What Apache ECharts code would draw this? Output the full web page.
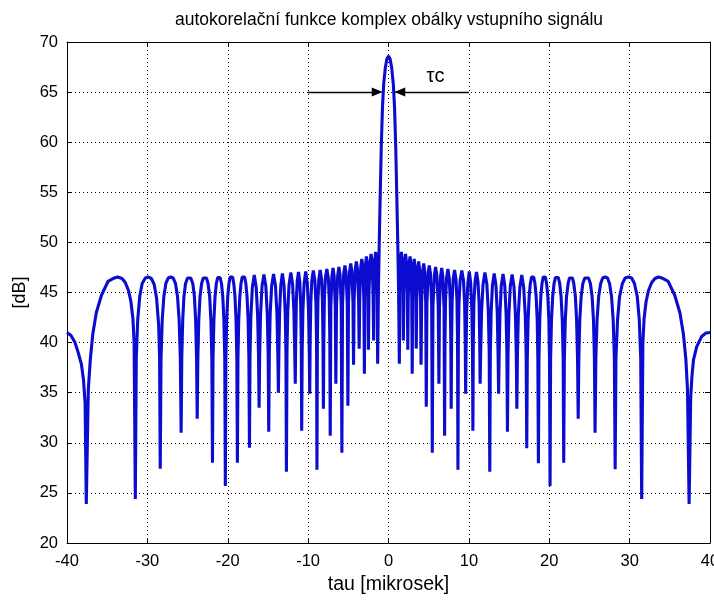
<!DOCTYPE html>
<html>
<head>
<meta charset="utf-8">
<script src="https://cdn.jsdelivr.net/npm/echarts@6/dist/echarts.min.js"></script>
<style>
html,body{margin:0;padding:0;background:#fff;}
#chart{width:714px;height:601px;}
</style>
</head>
<body>
<div id="chart"></div>
<script>
// ---- data (tau in microseconds, value in dB) ----
const titleText = 'autokorelační funkce komplex obálky vstupního signálu';
const xName = 'tau [mikrosek]';
const yName = '[dB]';
const xTicks = [-40, -30, -20, -10, 0, 10, 20, 30, 40];
const yTicks = [20, 25, 30, 35, 40, 45, 50, 55, 60, 65, 70];

// left half (tau <= 0)
const tauLeft = [
  -40.0, -39.5, -39.0, -38.6, -38.2, -37.95, -37.75, -37.6,
  -37.35, -37.1, -36.8, -36.35, -35.7, -34.9, -34.1, -33.7, -33.15, -32.75, -32.35, -32.05, -31.8, -31.65, -31.5,
  -31.38, -31.2, -30.95, -30.65, -30.25, -29.9, -29.5, -29.15, -28.85, -28.6, -28.48, -28.4,
  -28.3, -28.15, -27.95, -27.7, -27.4, -27.1, -26.8, -26.5, -26.25, -26.05, -25.9, -25.8,
  -25.72, -25.6, -25.45, -25.25, -25.0, -24.8, -24.6, -24.35, -24.15, -24.0, -23.88, -23.8,
  -23.72, -23.6, -23.45, -23.25, -23.05, -22.85, -22.65, -22.45, -22.25, -22.1, -21.98, -21.9,
  -21.83, -21.72, -21.58, -21.42, -21.25, -21.1, -20.95, -20.78, -20.62, -20.48, -20.37, -20.3,
  -20.23, -20.13, -20.0, -19.85, -19.7, -19.55, -19.4, -19.25, -19.1, -18.97, -18.87, -18.8,
  -18.73, -18.63, -18.5, -18.35, -18.2, -18.05, -17.9, -17.75, -17.6, -17.47, -17.37, -17.3,
  -17.23, -17.12, -16.94, -16.7, -16.46, -16.28, -16.17, -16.1,
  -16.03, -15.92, -15.74, -15.5, -15.26, -15.08, -14.97, -14.9,
  -14.83, -14.72, -14.54, -14.3, -14.06, -13.88, -13.77, -13.7,
  -13.64, -13.55, -13.4, -13.2, -13.0, -12.85, -12.76, -12.7,
  -12.63, -12.53, -12.37, -12.15, -11.93, -11.77, -11.67, -11.6,
  -11.55, -11.47, -11.36, -11.2, -11.04, -10.93, -10.85, -10.8,
  -10.74, -10.65, -10.5, -10.3, -10.1, -9.95, -9.86, -9.8,
  -9.75, -9.67, -9.54, -9.35, -9.16, -9.03, -8.95, -8.9,
  -8.85, -8.78, -8.67, -8.5, -8.33, -8.22, -8.15, -8.1,
  -8.05, -7.98, -7.86, -7.67, -7.48, -7.37, -7.3, -7.25,
  -7.18, -7.04, -6.9, -6.76, -6.62, -6.55,
  -6.47, -6.32, -6.17, -6.02, -5.88, -5.8,
  -5.72, -5.57, -5.42, -5.27, -5.13, -5.05,
  -4.98, -4.84, -4.7, -4.56, -4.42, -4.35,
  -4.28, -4.14, -4.0, -3.86, -3.72, -3.65,
  -3.58, -3.45, -3.32, -3.19, -3.07, -3.0,
  -2.95, -2.85, -2.75, -2.65, -2.55, -2.5,
  -2.43, -2.3, -2.17, -2.04, -1.92, -1.85,
  -1.8, -1.7, -1.6, -1.5, -1.4, -1.35,
  -1.25, -1.15, -1.05, -0.9, -0.75, -0.6, -0.4, -0.2, 0.0
];
const dbLeft = [
  41.0, 40.7, 40.0, 39.0, 37.8, 36.3, 34.0, 23.9,
  35.3, 38.3, 40.8, 43.0, 44.75, 46.1, 46.45, 46.55, 46.4, 46.0, 45.2, 44.1, 42.4, 40.0, 24.4,
  38.5, 42.3, 44.6, 45.9, 46.45, 46.55, 46.4, 45.8, 44.4, 41.8, 38.5, 27.4,
  38.5, 42.3, 44.6, 45.9, 46.45, 46.55, 46.45, 45.9, 44.6, 42.3, 38.5, 31.0,
  38.5, 42.3, 44.6, 45.9, 46.45, 46.6, 46.45, 45.9, 44.6, 42.3, 38.5, 32.4,
  38.5, 42.3, 44.6, 45.9, 46.45, 46.6, 46.45, 45.9, 44.6, 42.3, 38.5, 28.0,
  38.5, 42.3, 44.6, 45.9, 46.5, 46.65, 46.5, 45.9, 44.6, 42.3, 38.5, 25.7,
  38.5, 42.3, 44.6, 45.9, 46.55, 46.7, 46.55, 45.9, 44.6, 42.3, 38.5, 28.0,
  38.5, 42.3, 44.6, 45.9, 46.55, 46.7, 46.55, 45.9, 44.6, 42.3, 38.5, 29.5,
  38.7, 42.7, 45.5, 46.75, 45.5, 42.7, 38.7, 33.5,
  38.8, 42.8, 45.6, 46.8, 45.6, 42.8, 38.8, 31.1,
  38.9, 42.9, 45.65, 46.85, 45.65, 42.9, 38.9, 35.0,
  39.0, 43.0, 45.7, 46.9, 45.7, 43.0, 39.0, 27.1,
  39.1, 43.1, 45.8, 47.0, 45.8, 43.1, 39.1, 35.9,
  40.0, 44.0, 46.1, 47.05, 46.1, 44.0, 40.0, 31.2,
  39.2, 43.2, 45.9, 47.1, 45.9, 43.2, 39.2, 34.9,
  40.0, 44.0, 46.2, 47.2, 46.2, 44.0, 40.0, 27.3,
  40.2, 44.2, 46.3, 47.25, 46.3, 44.2, 40.2, 33.4,
  40.3, 44.3, 46.4, 47.35, 46.4, 44.3, 40.3, 30.7,
  43.5, 46.6, 47.45, 46.6, 43.5, 35.9,
  43.6, 46.7, 47.55, 46.7, 43.6, 29.0,
  43.8, 46.9, 47.7, 46.9, 43.8, 33.7,
  44.0, 47.1, 47.9, 47.1, 44.0, 37.8,
  44.2, 47.3, 48.1, 47.3, 44.2, 39.4,
  44.4, 47.55, 48.35, 47.55, 44.4, 36.9,
  44.6, 47.8, 48.6, 47.8, 44.6, 39.3,
  44.9, 48.05, 48.85, 48.05, 44.9, 40.2,
  45.1, 48.25, 49.05, 48.25, 45.1, 37.9,
  45.5, 50.0, 54.0, 59.5, 63.5, 65.8, 67.4, 68.3, 68.6
];

// right half (tau > 0)
const tauRight = [
  0.2, 0.4, 0.6, 0.75, 0.9, 1.05, 1.15, 1.25, 1.35,
  1.4, 1.5, 1.6, 1.7, 1.8, 1.85,
  1.91, 2.02, 2.12, 2.23, 2.34, 2.4,
  2.46, 2.57, 2.68, 2.79, 2.89, 2.95,
  3.0, 3.1, 3.2, 3.3, 3.4, 3.45,
  3.51, 3.63, 3.75, 3.87, 3.99, 4.05,
  4.12, 4.25, 4.38, 4.51, 4.63, 4.7,
  4.78, 4.93, 5.07, 5.22, 5.37, 5.45,
  5.53, 5.7, 5.86, 6.02, 6.19, 6.27,
  6.34, 6.48, 6.62, 6.76, 6.91, 6.98,
  7.03, 7.1, 7.22, 7.39, 7.56, 7.68, 7.75, 7.8,
  7.85, 7.92, 8.04, 8.22, 8.4, 8.52, 8.59, 8.64,
  8.69, 8.77, 8.91, 9.12, 9.33, 9.47, 9.55, 9.6,
  9.65, 9.73, 9.87, 10.05, 10.23, 10.37, 10.45, 10.5,
  10.55, 10.63, 10.77, 10.95, 11.13, 11.27, 11.35, 11.4,
  11.47, 11.58, 11.76, 12.0, 12.24, 12.42, 12.53, 12.6,
  12.67, 12.77, 12.93, 13.15, 13.37, 13.53, 13.63, 13.7,
  13.77, 13.87, 14.03, 14.25, 14.47, 14.63, 14.73, 14.8,
  14.87, 14.98, 15.15, 15.38, 15.61, 15.79, 15.9, 15.97,
  16.04, 16.15, 16.34, 16.58, 16.82, 17.02, 17.13, 17.2,
  17.27, 17.37, 17.5, 17.65, 17.8, 17.93, 18.06, 18.22, 18.37, 18.5, 18.58, 18.65,
  18.72, 18.82, 18.95, 19.1, 19.25, 19.38, 19.51, 19.67, 19.82, 19.95, 20.03, 20.1,
  20.17, 20.28, 20.43, 20.6, 20.78, 20.95, 21.12, 21.3, 21.47, 21.62, 21.73, 21.8,
  21.88, 22.0, 22.15, 22.35, 22.52, 22.7, 22.88, 23.05, 23.25, 23.4, 23.52, 23.6,
  23.68, 23.8, 23.97, 24.18, 24.42, 24.65, 24.88, 25.12, 25.33, 25.5, 25.62, 25.7,
  25.8, 25.95, 26.15, 26.4, 26.65, 26.95, 27.25, 27.5, 27.75, 27.95, 28.1, 28.2,
  28.3, 28.5, 28.75, 29.1, 29.45, 29.85, 30.25, 30.6, 30.95, 31.2, 31.38, 31.5,
  31.65, 31.8, 32.05, 32.35, 32.75, 33.15, 33.6, 34.0, 34.8, 35.6, 36.25, 36.7, 37.0, 37.2, 37.4,
  37.6, 37.75, 37.95, 38.35, 38.95, 39.5, 40.0
];
const dbRight = [
  68.3, 67.4, 65.8, 63.5, 59.5, 54.0, 50.0, 45.5, 37.9,
  45.1, 48.25, 49.05, 48.25, 45.1, 40.2,
  44.9, 48.05, 48.85, 48.05, 44.9, 39.3,
  44.6, 47.8, 48.6, 47.8, 44.6, 36.9,
  44.4, 47.55, 48.35, 47.55, 44.4, 39.4,
  44.2, 47.3, 48.1, 47.3, 44.2, 37.8,
  44.0, 47.1, 47.9, 47.1, 44.0, 33.6,
  43.8, 46.9, 47.7, 46.9, 43.8, 29.0,
  43.6, 46.7, 47.55, 46.7, 43.6, 35.9,
  43.5, 46.6, 47.45, 46.6, 43.5, 30.7,
  40.3, 44.3, 46.4, 47.35, 46.4, 44.3, 40.3, 33.4,
  40.2, 44.2, 46.3, 47.25, 46.3, 44.2, 40.2, 27.3,
  40.0, 44.0, 46.2, 47.2, 46.2, 44.0, 40.0, 34.9,
  39.2, 43.2, 45.9, 47.1, 45.9, 43.2, 39.2, 31.2,
  40.0, 44.0, 46.1, 47.05, 46.1, 44.0, 40.0, 35.9,
  39.1, 43.1, 45.8, 47.0, 45.8, 43.1, 39.1, 27.1,
  39.0, 43.0, 45.7, 46.9, 45.7, 43.0, 39.0, 34.9,
  38.9, 42.9, 45.65, 46.85, 45.65, 42.9, 38.9, 31.1,
  38.8, 42.8, 45.6, 46.8, 45.6, 42.8, 38.8, 33.4,
  38.7, 42.7, 45.5, 46.75, 45.5, 42.7, 38.7, 29.45,
  38.5, 42.3, 44.6, 45.9, 46.55, 46.7, 46.55, 45.9, 44.6, 42.3, 38.5, 27.95,
  38.5, 42.3, 44.6, 45.9, 46.55, 46.7, 46.55, 45.9, 44.6, 42.3, 38.5, 25.7,
  38.5, 42.3, 44.6, 45.9, 46.5, 46.65, 46.5, 45.9, 44.6, 42.3, 38.5, 28.0,
  38.5, 42.3, 44.6, 45.9, 46.45, 46.6, 46.45, 45.9, 44.6, 42.3, 38.5, 32.4,
  38.5, 42.3, 44.6, 45.9, 46.45, 46.6, 46.45, 45.9, 44.6, 42.3, 38.5, 31.0,
  38.5, 42.3, 44.6, 45.9, 46.45, 46.55, 46.45, 45.9, 44.6, 42.3, 38.5, 27.35,
  38.5, 42.3, 44.6, 45.9, 46.45, 46.55, 46.45, 45.9, 44.6, 42.3, 38.5, 24.4,
  40.0, 42.4, 44.1, 45.2, 46.0, 46.4, 46.55, 46.45, 46.1, 44.75, 43.0, 40.8, 38.3, 35.3, 23.9,
  34.5, 36.6, 38.3, 39.6, 40.6, 40.95, 41.0
];

// annotation: tau_c arrows at 65 dB and the label
const arrowLevel = 65;
const arrowLeft = [-10, -1.4];
const arrowRight = [10, 1.4];
const tauCLabel = 'τc';
const tauCPos = [5.85, 66.6];

// ---- build chart ----
const curve = [];
for (let i = 0; i < tauLeft.length; i++) curve.push([tauLeft[i], dbLeft[i]]);
for (let i = 0; i < tauRight.length; i++) curve.push([tauRight[i], dbRight[i]]);

const FONT = "'Liberation Sans', Arial, Helvetica, sans-serif";
const chart = echarts.init(document.getElementById('chart'), null, {renderer: 'canvas'});

const xMin = xTicks[0], xMax = xTicks[xTicks.length - 1];
const yMin = yTicks[0], yMax = yTicks[yTicks.length - 1];
const gridLine = {show: true, lineStyle: {color: '#000', width: 1, type: [1, 3]}};

chart.setOption({
  animation: false,
  backgroundColor: '#fff',
  textStyle: {fontFamily: FONT, color: '#000'},
  title: {
    text: titleText, left: 384, top: 6, textAlign: 'center',
    textStyle: {fontFamily: FONT, fontSize: 17.5, fontWeight: 'normal', color: '#000'}
  },
  grid: {left: 67, right: 4, top: 42, bottom: 58, containLabel: false, outerBoundsMode: 'none'},
  xAxis: [{
    type: 'value', min: xMin, max: xMax, interval: 10, position: 'bottom',
    name: xName, nameLocation: 'middle', nameGap: 28,
    nameTextStyle: {fontFamily: FONT, fontSize: 19.5, color: '#000'},
    axisLine: {show: true, onZero: false, lineStyle: {color: '#000', width: 1}},
    axisTick: {show: true, inside: true, length: 5, lineStyle: {color: '#000'}},
    axisLabel: {show: true, fontFamily: FONT, fontSize: 16.5, color: '#000', margin: 10, hideOverlap: false},
    splitLine: gridLine
  }, {
    type: 'value', min: xMin, max: xMax, interval: 10, position: 'top',
    axisLine: {show: true, onZero: false, lineStyle: {color: '#000', width: 1}},
    axisTick: {show: true, inside: true, length: 5, lineStyle: {color: '#000'}},
    axisLabel: {show: false}, splitLine: {show: false}
  }],
  yAxis: [{
    type: 'value', min: yMin, max: yMax, interval: 5, position: 'left',
    name: yName, nameLocation: 'middle', nameGap: 32,
    nameTextStyle: {fontFamily: FONT, fontSize: 18, color: '#000'},
    axisLine: {show: true, onZero: false, lineStyle: {color: '#000', width: 1}},
    axisTick: {show: true, inside: true, length: 5, lineStyle: {color: '#000'}},
    axisLabel: {show: true, fontFamily: FONT, fontSize: 16.5, color: '#000', margin: 9},
    splitLine: gridLine
  }, {
    type: 'value', min: yMin, max: yMax, interval: 5, position: 'right',
    axisLine: {show: true, onZero: false, lineStyle: {color: '#000', width: 1}},
    axisTick: {show: true, inside: true, length: 5, lineStyle: {color: '#000'}},
    axisLabel: {show: false}, splitLine: {show: false}
  }],
  series: [{
    type: 'line',
    data: curve,
    showSymbol: false,
    symbol: 'none',
    lineStyle: {color: '#0c0cd0', width: 3.1},
    z: 3,
    markLine: {
      silent: true,
      symbol: ['none', 'triangle'],
      symbolSize: [9, 11],
      label: {show: false},
      lineStyle: {color: '#000', width: 1.4, type: 'solid'},
      data: [
        [{coord: [arrowLeft[0], arrowLevel]}, {coord: [arrowLeft[1], arrowLevel]}],
        [{coord: [arrowRight[0], arrowLevel]}, {coord: [arrowRight[1], arrowLevel]}]
      ]
    },
    markPoint: {
      silent: true,
      symbol: 'circle',
      symbolSize: 0,
      data: [{coord: tauCPos, label: {show: true, formatter: tauCLabel, position: 'inside',
        fontFamily: FONT, fontSize: 20, color: '#000'}}]
    }
  }]
});
</script>
</body>
</html>
